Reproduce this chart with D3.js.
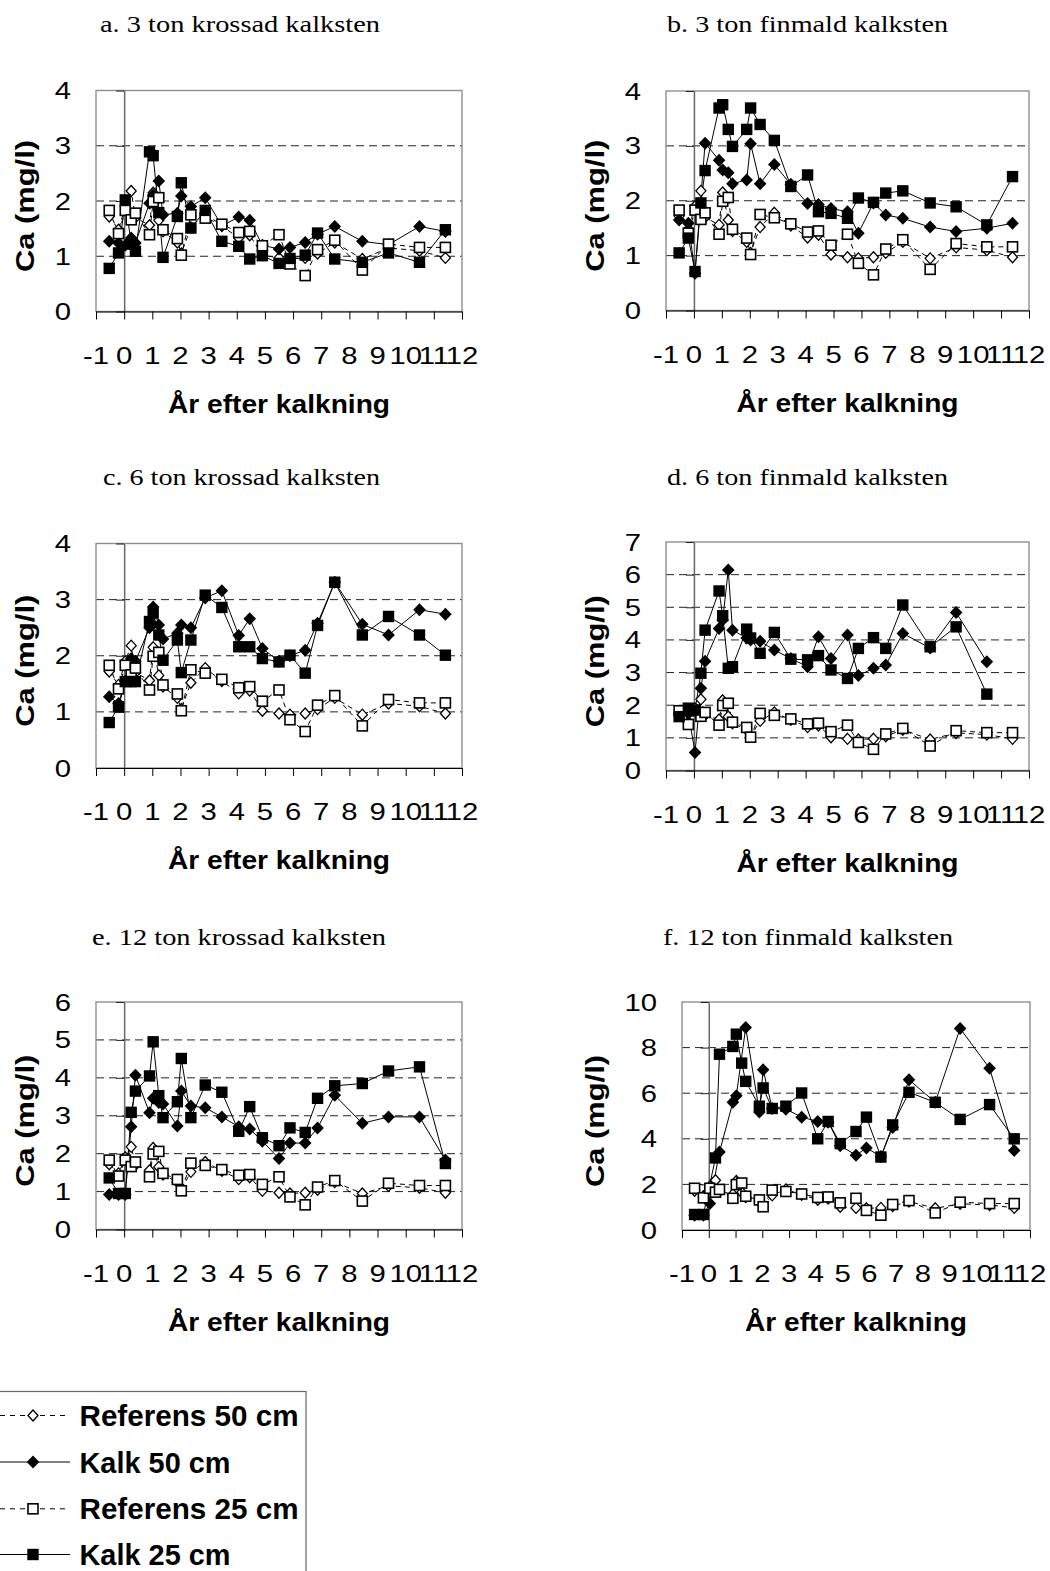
<!DOCTYPE html>
<html><head><meta charset="utf-8">
<script src="https://cdn.jsdelivr.net/npm/d3@7"></script>
<style>body{margin:0;background:#fff} svg{display:block}</style>
</head><body><svg id="c" width="1050" height="1571"></svg>
<script>
// ---- data ----
const years = [-0.53,-0.2,0.04,0.25,0.4,0.9,1.03,1.23,1.38,1.89,2.03,2.37,2.88,3.47,4.07,4.46,4.91,5.5,5.89,6.43,6.87,7.48,8.46,9.39,10.49,11.41];
const ref50 = [1.72,1.48,1.9,2.18,1.7,1.56,2.15,1.65,1.45,1.25,1.05,1.52,1.78,1.55,1.33,1.38,1.02,0.97,0.95,0.97,1.05,1.25,0.95,1.15,1.1,0.97];
const ref25 = [1.83,1.41,1.83,1.66,1.78,1.39,1.99,2.06,1.48,1.32,1.02,1.75,1.69,1.58,1.43,1.45,1.19,1.39,0.86,0.65,1.12,1.29,0.75,1.22,1.16,1.16];

const kalk50a = [1.27,1.24,1.2,1.33,1.24,1.96,2.11,2.36,1.75,1.78,2.09,1.9,2.06,1.55,1.71,1.65,1.2,1.13,1.16,1.25,1.4,1.54,1.27,1.21,1.54,1.45];
const kalk25a = [0.78,1.06,2.02,1.22,1.09,2.89,2.82,1.79,0.98,1.72,2.33,1.51,1.83,1.27,1.18,0.95,1.01,0.87,0.96,1.02,1.42,0.95,0.89,1.06,0.89,1.48];
const kalk50b = [1.65,1.59,0.68,null,3.05,2.74,2.56,2.51,2.31,2.38,3.04,2.31,2.66,2.3,1.95,1.93,1.86,1.80,1.41,1.96,1.74,1.68,1.52,1.44,1.5,1.59];
const kalk25b = [1.05,1.32,0.71,1.96,2.55,3.69,3.75,3.30,2.99,3.30,3.69,3.39,3.10,2.26,2.47,1.80,1.77,1.68,2.05,1.97,2.14,2.18,1.96,1.89,1.56,2.44];
const kalk50c = [1.27,1.15,1.55,1.95,1.9,2.5,2.87,2.55,2.3,2.4,2.55,2.5,3.03,3.16,2.36,2.66,2.13,1.9,2.0,2.10,2.58,3.31,2.56,2.37,2.82,2.74];
const kalk25c = [0.81,1.09,1.54,1.54,1.54,2.61,2.76,2.37,1.92,2.28,1.70,2.28,3.08,2.86,2.16,2.16,1.95,1.89,2.01,1.69,2.54,3.31,2.37,2.70,2.37,2.01];
const kalk50d = [1.7,1.75,0.55,2.52,3.35,4.35,4.61,6.14,4.3,4.06,4.0,3.96,3.69,3.43,3.18,4.10,3.43,4.15,2.91,3.13,3.23,4.20,3.75,4.84,3.33,null];
const kalk25d = [1.65,1.91,1.85,2.98,4.30,5.50,4.74,3.13,3.18,4.33,4.06,3.59,4.23,3.41,3.39,3.52,3.08,2.82,3.74,4.07,3.74,5.07,3.79,4.40,2.34,null];
const kalk50e = [0.92,0.92,0.92,2.71,4.07,3.08,3.46,3.35,3.31,2.73,3.65,3.26,3.21,2.97,2.71,2.65,2.33,1.87,2.28,2.28,2.68,3.54,2.80,2.97,2.97,1.83];
const kalk25e = [1.36,0.95,0.95,3.09,3.65,4.05,4.95,3.53,2.95,3.37,4.51,2.95,3.81,3.62,2.59,3.24,2.42,2.21,2.68,2.56,3.46,3.79,3.85,4.18,4.29,1.74];
const kalk50f = [0.65,0.65,1.16,null,3.42,5.6,5.89,null,8.88,5.17,7.03,5.33,5.3,4.95,4.76,4.73,3.7,3.28,3.6,3.22,4.5,6.59,5.6,8.84,7.09,3.49];
const kalk25f = [0.68,0.68,null,3.16,7.71,8.05,8.59,7.32,6.52,5.43,6.23,5.33,5.43,6.01,4.0,4.76,3.79,4.32,4.95,3.2,4.61,6.04,5.6,4.85,5.5,4.0];

const panelTitles = ["a. 3 ton krossad kalksten","b. 3 ton finmald kalksten","c. 6 ton krossad kalksten","d. 6 ton finmald kalksten","e. 12 ton krossad kalksten","f. 12 ton finmald kalksten"];
const kalk50List = [kalk50a,kalk50b,kalk50c,kalk50d,kalk50e,kalk50f];
const kalk25List = [kalk25a,kalk25b,kalk25c,kalk25d,kalk25e,kalk25f];
const yMaxes = [4,4,4,7,6,10];
const ySteps = [1,1,1,1,1,2];
const xTicks = d3.range(-1,13);
const seriesNames = ["Referens 50 cm","Kalk 50 cm","Referens 25 cm","Kalk 25 cm"];
const xTitle = "År efter kalkning";
const yTitle = "Ca (mg/l)";

// ---- layout ----
const layout = [
 {x0:96,x1:462,yb:311.5,yt:90.5,tx:240,ty:32,tw:280,ylx:34},
 {x0:666,x1:1029,yb:310.5,yt:91,tx:807.5,ty:32,tw:281,ylx:604},
 {x0:96,x1:462,yb:768,yt:543.5,tx:241.5,ty:485,tw:277,ylx:34},
 {x0:666,x1:1029,yb:770.5,yt:542,tx:807.5,ty:485,tw:281,ylx:604},
 {x0:96,x1:462,yb:1229.5,yt:1002,tx:239,ty:945,tw:294,ylx:34},
 {x0:682,x1:1030,yb:1230,yt:1002,tx:808,ty:945,tw:290,ylx:604}
];
const SANS = "'Liberation Sans', Arial, sans-serif";
const SERIF = "'Liberation Serif', 'Times New Roman', serif";
const TSX = 1.22;

const svg = d3.select("#c");

function diamondPath(w,h){return `M0,${-h}L${w},0L0,${h}L${-w},0Z`;}
function drawMarker(sel, type){
  if(type===0){ // open diamond
    sel.append("path").attr("d",diamondPath(5,5.5)).attr("fill","#fff").attr("stroke","#000").attr("stroke-width",1.3);
  } else if(type===1){
    sel.append("path").attr("d",diamondPath(6.3,6.5)).attr("fill","#000");
  } else if(type===2){
    sel.append("rect").attr("x",-5).attr("y",-5).attr("width",10).attr("height",10).attr("fill","#fff").attr("stroke","#000").attr("stroke-width",1.6);
  } else {
    sel.append("rect").attr("x",-5.7).attr("y",-5.7).attr("width",11.4).attr("height",11.4).attr("fill","#000");
  }
}

layout.forEach((L,i)=>{
  const g = svg.append("g");
  const x = d3.scaleLinear().domain([-1,12]).range([L.x0,L.x1]);
  const y = d3.scaleLinear().domain([0,yMaxes[i]]).range([L.yb,L.yt]);
  const yt = d3.range(0,yMaxes[i]+0.001,ySteps[i]);

  // gridlines
  g.selectAll(".grid").data(yt.filter(v=>v>0 && v<yMaxes[i])).enter().append("line")
    .attr("x1",L.x0).attr("x2",L.x1).attr("y1",d=>y(d)).attr("y2",d=>y(d))
    .attr("stroke","#222").attr("stroke-width",1).attr("stroke-dasharray","8,5");
  // border
  g.append("rect").attr("x",L.x0).attr("y",L.yt).attr("width",L.x1-L.x0).attr("height",L.yb-L.yt)
    .attr("fill","none").attr("stroke","#8f8f8f").attr("stroke-width",1.4);

  // y axis at x=0
  const ya = g.append("g").attr("transform",`translate(${x(0)},0)`)
    .call(d3.axisLeft(y).tickValues(yt).tickSize(8).tickSizeOuter(0).tickFormat(""));
  ya.select(".domain").attr("stroke","#666").attr("stroke-width",1.5);
  ya.selectAll(".tick line").attr("stroke","#222");
  // x axis
  const xa = g.append("g").attr("transform",`translate(0,${L.yb})`)
    .call(d3.axisBottom(x).tickValues(xTicks).tickSize(8).tickSizeOuter(0).tickFormat(""));
  xa.select(".domain").attr("stroke","#000").attr("stroke-width",1);
  xa.selectAll(".tick line").attr("stroke","#000");

  // y tick labels
  yt.forEach(v=>{
    g.append("text").text(v).attr("transform",`translate(${L.x0-25},${y(v)+8.5}) scale(${TSX},1)`)
      .attr("text-anchor","end").attr("font-family",SANS).attr("font-size",24).attr("fill","#000");
  });
  // x tick labels
  xTicks.forEach(v=>{
    g.append("text").text(v).attr("transform",`translate(${x(v)},${L.yb+52}) scale(${TSX},1)`)
      .attr("text-anchor","middle").attr("font-family",SANS).attr("font-size",24).attr("fill","#000");
  });
  // titles
  g.append("text").text(panelTitles[i]).attr("x",L.tx).attr("y",L.ty).attr("text-anchor","middle")
    .attr("font-family",SERIF).attr("font-size",24).attr("textLength",L.tw).attr("lengthAdjust","spacingAndGlyphs");
  g.append("text").text(xTitle).attr("x",(L.x0+L.x1)/2).attr("y",L.yb+101).attr("text-anchor","middle")
    .attr("font-family",SANS).attr("font-weight","bold").attr("font-size",26)
    .attr("textLength",222).attr("lengthAdjust","spacingAndGlyphs");
  g.append("text").text(yTitle).attr("transform",`translate(${L.ylx},${(L.yt+L.yb)/2+5}) rotate(-90)`)
    .attr("text-anchor","middle").attr("font-family",SANS).attr("font-weight","bold").attr("font-size",25)
    .attr("textLength",132).attr("lengthAdjust","spacingAndGlyphs");

  // series
  const series = [ref50, kalk50List[i], ref25, kalk25List[i]];
  const line = d3.line().x(d=>x(d[0])).y(d=>y(d[1]));
  const pts = series.map(s=>years.map((yr,k)=>[yr,s[k]]).filter(d=>d[1]!=null));
  pts.forEach((p,si)=>{
    g.append("path").attr("d",line(p)).attr("fill","none").attr("stroke","#000").attr("stroke-width",1)
      .attr("stroke-dasharray", si%2===0 ? "5,4" : null);
  });
  pts.forEach((p,si)=>{
    p.forEach(d=>{
      const m = g.append("g").attr("transform",`translate(${x(d[0])},${y(d[1])})`);
      drawMarker(m, si);
    });
  });
});

// legend
const lg = svg.append("g");
lg.append("rect").attr("x",-20).attr("y",1391.5).attr("width",326).attr("height",220)
  .attr("fill","#fff").attr("stroke","#666").attr("stroke-width",1.2);
const legY = [1415.5,1462,1508.8,1554.5];
const legW = [219,151,219,151];
seriesNames.forEach((n,i)=>{
  lg.append("line").attr("x1",0).attr("x2",70).attr("y1",legY[i]).attr("y2",legY[i])
    .attr("stroke","#000").attr("stroke-width",1).attr("stroke-dasharray", i%2===0 ? "5,5" : null);
  const m = lg.append("g").attr("transform",`translate(33,${legY[i]})`);
  drawMarker(m,i);
  lg.append("text").text(n).attr("x",79.5).attr("y",legY[i]+10.5)
    .attr("font-family",SANS).attr("font-weight","bold").attr("font-size",29)
    .attr("textLength",legW[i]).attr("lengthAdjust","spacingAndGlyphs");
});
</script></body></html>
